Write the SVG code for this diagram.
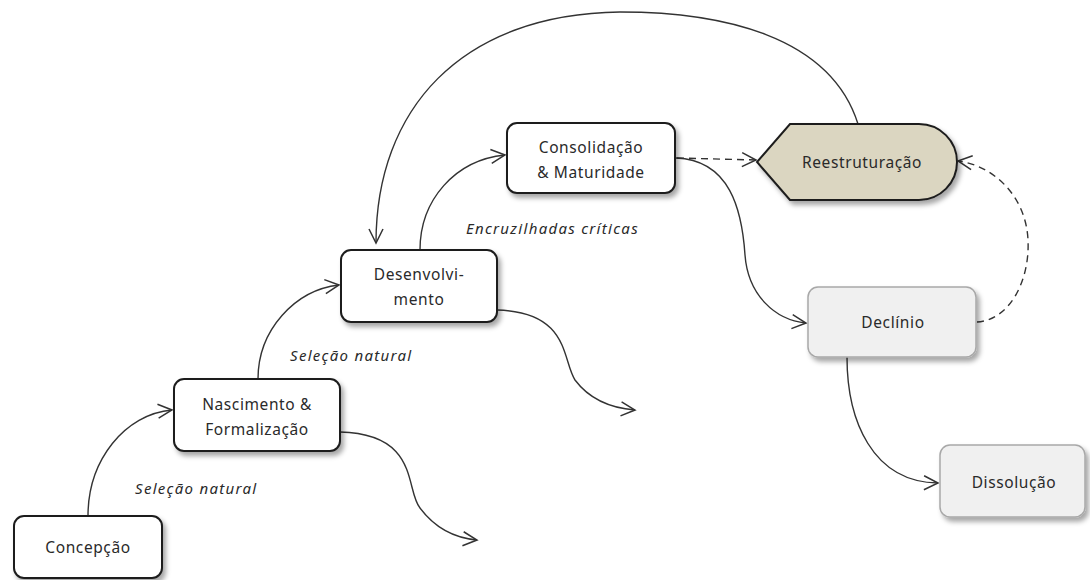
<svg xmlns="http://www.w3.org/2000/svg" width="1090" height="580" viewBox="0 0 1090 580">
  <style>
    .box { fill: #ffffff; stroke: #1e1e1e; stroke-width: 2; filter: url(#shadow); }
    .soft { fill: #f0f0f0; stroke: #a8a8a8; stroke-width: 1.5; filter: url(#shadow); }
    .restr { fill: #dbd6c1; stroke: #1e1e1e; stroke-width: 2; filter: url(#shadow); }
    .label { font-family: "Noto Sans", "Open Sans", sans-serif; font-size: 15.5px; letter-spacing: 0.6px; fill: #2a2a2a; text-anchor: middle; }
    .note { font-family: "Noto Sans", "Open Sans", sans-serif; font-size: 15px; letter-spacing: 1.3px; font-style: italic; fill: #2a2a2a; }
    .link { fill: none; stroke: #333; stroke-width: 1.4; marker-end: url(#arrow); }
    .dash { stroke-dasharray: 7 5; }
  </style>
  <defs>
    <filter id="shadow" x="-10%" y="-10%" width="130%" height="140%">
      <feDropShadow dx="3" dy="4" stdDeviation="2.5" flood-color="#000" flood-opacity="0.35"/>
    </filter>
    <marker id="arrow" markerUnits="userSpaceOnUse" markerWidth="20" markerHeight="20" viewBox="0 0 20 20" refX="18" refY="10" orient="auto">
      <path d="M4,3 L18,10 L4,17" fill="none" stroke="#333" stroke-width="1.5"/>
    </marker>
  </defs>

  <g id="connectors">
    <path class="link" d="M88 516 C88 460 125 414 172 410"/>
    <path class="link" d="M258 379 C258 330 295 290 339 285"/>
    <path class="link" d="M420 250 C420 200 455 160 505 155"/>
    <path class="link" d="M340 432 C420 434 405 490 420 508 C435 528 455 538 477 540"/>
    <path class="link" d="M497 310 C570 312 562 360 575 380 C590 400 610 408 635 410"/>
    <path class="link" d="M676 158 C730 160 742 210 745 255 C748 295 775 320 806 323"/>
    <path class="link dash" d="M677 158 L756 160"/>
    <path class="link" d="M858 124 C830 35 720 12 620 12 C460 14 376 110 376 243"/>
    <path class="link dash" d="M977 322 C1010 320 1030 280 1028 240 C1026 195 992 165 958 161"/>
    <path class="link" d="M847 357 C847 420 872 482 938 483"/>
  </g>

  <g id="concepcao">
    <rect class="box" x="14" y="516" width="148" height="62" rx="10"/>
    <text class="label" x="88" y="553">Concepção</text>
  </g>
  <g id="nascimento">
    <rect class="box" x="174" y="379" width="166" height="72" rx="10"/>
    <text class="label" x="257" y="410">Nascimento &amp;</text>
    <text class="label" x="257" y="435">Formalização</text>
  </g>
  <g id="desenvolvimento">
    <rect class="box" x="341" y="250" width="156" height="72" rx="10"/>
    <text class="label" x="419" y="280">Desenvolvi-</text>
    <text class="label" x="419" y="305">mento</text>
  </g>
  <g id="consolidacao">
    <rect class="box" x="507" y="123" width="168" height="70" rx="10"/>
    <text class="label" x="591" y="153">Consolidação</text>
    <text class="label" x="591" y="178">&amp; Maturidade</text>
  </g>
  <g id="reestruturacao">
    <path class="restr" d="M790 124 L919 124 A38 38 0 0 1 919 200 L790 200 L757 162 Z"/>
    <text class="label" x="862" y="168">Reestruturação</text>
  </g>
  <g id="declinio">
    <rect class="soft" x="808" y="287" width="168" height="70" rx="10"/>
    <text class="label" x="893" y="328">Declínio</text>
  </g>
  <g id="dissolucao">
    <rect class="soft" x="940" y="445" width="145" height="72" rx="10"/>
    <text class="label" x="1014" y="488">Dissolução</text>
  </g>

  <g id="notes">
    <text class="note" x="135" y="494">Seleção natural</text>
    <text class="note" x="290" y="361">Seleção natural</text>
    <text class="note" x="466" y="234">Encruzilhadas críticas</text>
  </g>
</svg>
